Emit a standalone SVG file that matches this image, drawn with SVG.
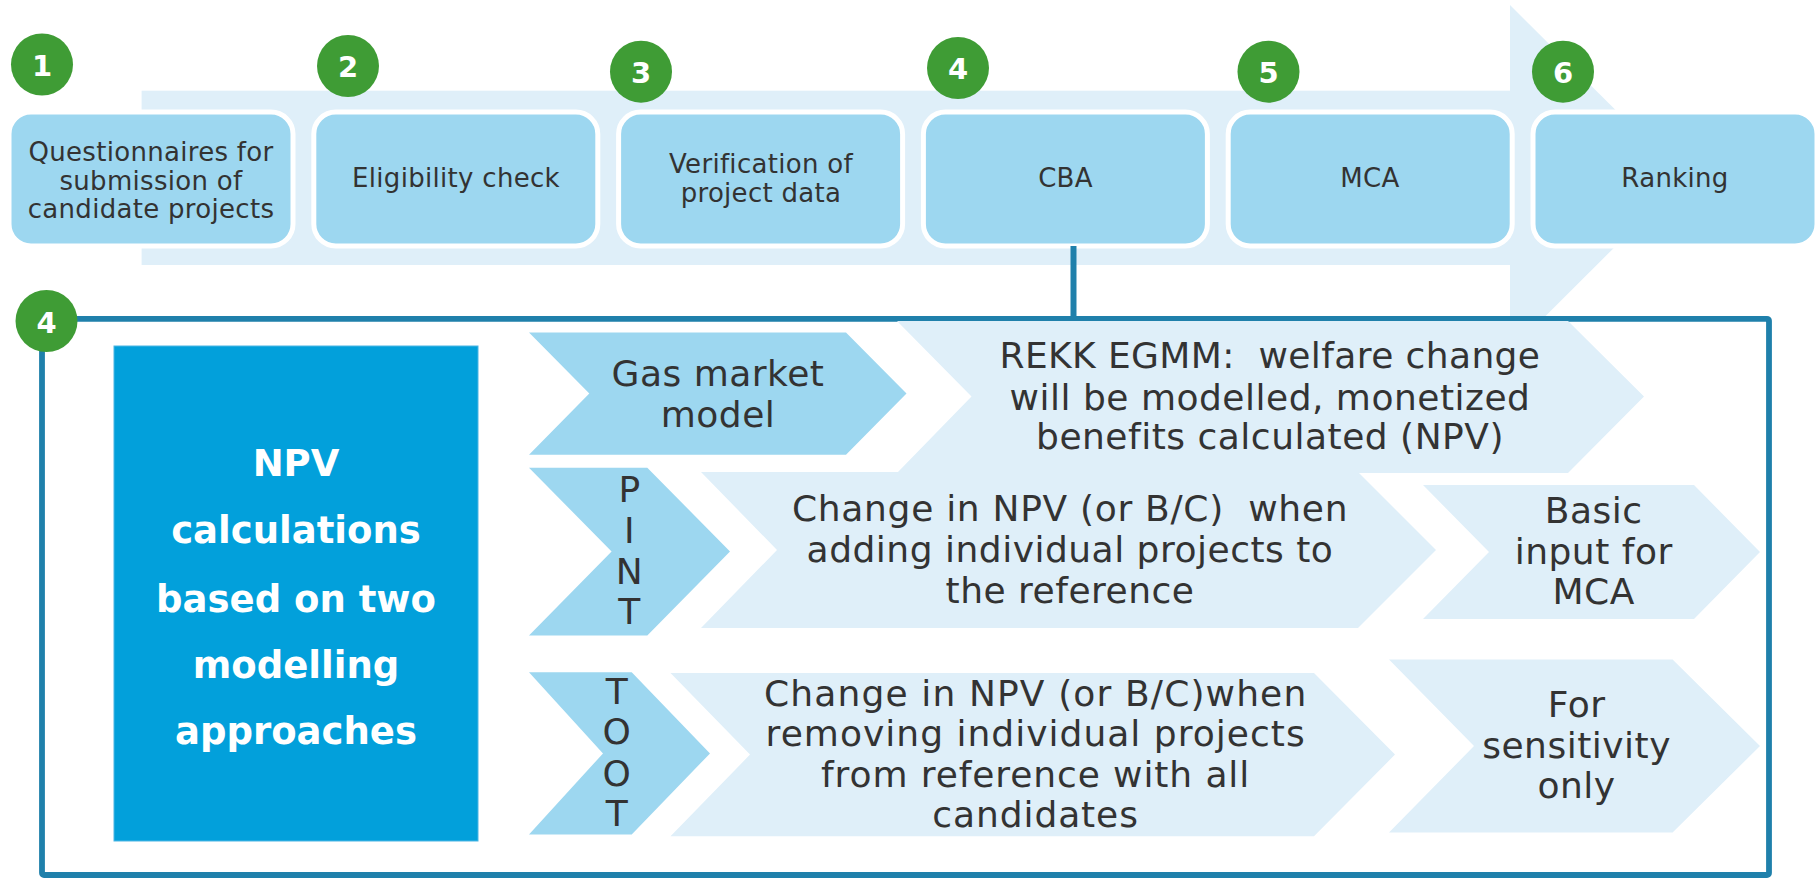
<svg xmlns="http://www.w3.org/2000/svg" width="1819" height="878" viewBox="0 0 1819 878">
<style>
.bg{fill:#dfeff9}
.box{fill:#9dd7f0;stroke:#ffffff;stroke-width:5}
.dark{fill:#9dd7f0}
.light{fill:#dfeff9}
.num circle{fill:#3f9c35}
.num text{font-family:"DejaVu Sans",sans-serif;font-weight:bold;font-size:29px;fill:#ffffff;text-anchor:middle}
.t{font-family:"DejaVu Sans",sans-serif;font-size:26px;fill:#333333;text-anchor:middle;letter-spacing:0.3px}
.l{font-family:"DejaVu Sans",sans-serif;font-size:36px;fill:#333333;text-anchor:middle;letter-spacing:0.5px}
.l2{letter-spacing:0.9px}
.w{font-family:"DejaVu Sans",sans-serif;font-weight:bold;font-size:37px;fill:#ffffff;text-anchor:middle}
</style>
<g id="process-arrow">
<rect class="bg" x="141.6" y="90.7" width="1368.4" height="174.3"/>
<polygon class="bg" points="1510,5 1684,178 1510,351.5"/>
</g>
<g id="step1"><rect class="box" x="9" y="112" width="284" height="134" rx="22"/>
<text class="t" x="151" y="160.7">Questionnaires for</text><text class="t" x="151" y="189.5">submission of</text><text class="t" x="151" y="218">candidate projects</text></g>
<g id="step2"><rect class="box" x="313.8" y="112" width="284" height="134" rx="22"/>
<text class="t" x="456" y="187">Eligibility check</text></g>
<g id="step3"><rect class="box" x="618.6" y="112" width="284" height="134" rx="22"/>
<text class="t" x="761" y="172.7">Verification of</text><text class="t" x="761" y="201.7">project data</text></g>
<g id="step4"><rect class="box" x="923.4" y="112" width="284" height="134" rx="22"/>
<text class="t" x="1065.5" y="187">CBA</text></g>
<g id="step5"><rect class="box" x="1228.2" y="112" width="284" height="134" rx="22"/>
<text class="t" x="1370" y="187">MCA</text></g>
<g id="step6"><rect class="box" x="1533" y="112" width="284" height="134" rx="22"/>
<text class="t" x="1675" y="187">Ranking</text></g>
<g id="badges" class="num">
<g id="badge1"><circle cx="42" cy="64.5" r="31"/><text x="42" y="75.5">1</text></g>
<g id="badge2"><circle cx="348" cy="66" r="31"/><text x="348" y="77">2</text></g>
<g id="badge3"><circle cx="641" cy="71.7" r="31"/><text x="641" y="82.7">3</text></g>
<g id="badge4"><circle cx="958" cy="68" r="31"/><text x="958" y="79">4</text></g>
<g id="badge5"><circle cx="1268.5" cy="71.7" r="31"/><text x="1268.5" y="82.7">5</text></g>
<g id="badge6"><circle cx="1563" cy="71.7" r="31"/><text x="1563" y="82.7">6</text></g>
</g>
<g id="cba-detail">
<rect x="42" y="318.8" width="1727" height="556.2" rx="2" fill="none" stroke="#1f80ab" stroke-width="5.8"/>
</g>
<g id="connectors">
<line x1="1073.5" y1="246" x2="1073.5" y2="318" stroke="#1f80ab" stroke-width="6"/>
</g>
<g id="npv-box">
<rect x="114" y="346" width="364" height="495" fill="#02a0db" stroke="#4db6e4" stroke-width="1"/>
<text class="w" x="296" y="476">NPV</text>
<text class="w" x="296" y="543.3">calculations</text>
<text class="w" x="296" y="611.5">based on two</text>
<text class="w" x="296" y="677.8">modelling</text>
<text class="w" x="296" y="744">approaches</text>
</g>
<g id="rekk">
<polygon class="light" points="897,321 1568,321 1644,396.5 1568,473 897,473 971.5,396.5"/>
<text class="l" x="1270" y="368" xml:space="preserve" textLength="541" lengthAdjust="spacing">REKK EGMM:  welfare change</text>
<text class="l" x="1270" y="409.5">will be modelled, monetized</text>
<text class="l" x="1270" y="449">benefits calculated (NPV)</text>
</g>
<g id="gas-model">
<polygon class="dark" points="529,332.4 846,332.4 906.5,393.6 846,454.8 529,454.8 589.3,393.6"/>
<text class="l" x="718" y="385.5">Gas market</text>
<text class="l" x="718" y="427">model</text>
</g>
<g id="pint-result">
<polygon class="light" points="701,472 1358,472 1436,550 1358,628 701,628 777,550"/>
<text class="l" x="1070" y="521" xml:space="preserve" textLength="556" lengthAdjust="spacing">Change in NPV (or B/C)  when</text>
<text class="l" x="1070" y="562.4">adding individual projects to</text>
<text class="l" x="1070" y="603">the reference</text>
</g>
<g id="pint">
<polygon class="dark" points="529,467.7 647.3,467.7 730,551.5 647.3,635.4 529,635.4 611.6,551.5"/>
<text class="l" x="629.5" y="502">P</text>
<text class="l" x="629.5" y="543.3">I</text>
<text class="l" x="629.5" y="583.8">N</text>
<text class="l" x="629.5" y="624.4">T</text>
</g>
<g id="basic-input">
<polygon class="light" points="1423,485 1694,485 1760,552 1694,619 1423,619 1489,552"/>
<text class="l" x="1593.7" y="523">Basic</text>
<text class="l" x="1593.7" y="563.5">input for</text>
<text class="l" x="1593.7" y="604">MCA</text>
</g>
<g id="toot-result">
<polygon class="light" points="670.5,673 1314,673 1395,754.6 1314,836.3 670.5,836.3 750,754.6"/>
<text class="l l2" x="1035.6" y="705.5" textLength="543" lengthAdjust="spacing">Change in NPV (or B/C)when</text>
<text class="l l2" x="1035.6" y="746" textLength="540" lengthAdjust="spacing">removing individual projects</text>
<text class="l l2" x="1035.6" y="786.5">from reference with all</text>
<text class="l l2" x="1035.6" y="827">candidates</text>
</g>
<g id="toot">
<polygon class="dark" points="529,672.3 631.7,672.3 710,753.4 631.7,834.5 529,834.5 603,753.4"/>
<text class="l" x="617" y="703.6">T</text>
<text class="l" x="617" y="744">O</text>
<text class="l" x="617" y="785.8">O</text>
<text class="l" x="617" y="826.4">T</text>
</g>
<g id="sensitivity">
<polygon class="light" points="1389,659.4 1672.6,659.4 1760,746 1672.6,832.6 1389,832.6 1474,746"/>
<text class="l" x="1576.6" y="716.5">For</text>
<text class="l" x="1576.6" y="757.8">sensitivity</text>
<text class="l" x="1576.6" y="797.6">only</text>
</g>
<g id="badge4-detail" class="num"><circle cx="46.5" cy="321" r="31"/><text x="46.5" y="333">4</text></g>
</svg>
